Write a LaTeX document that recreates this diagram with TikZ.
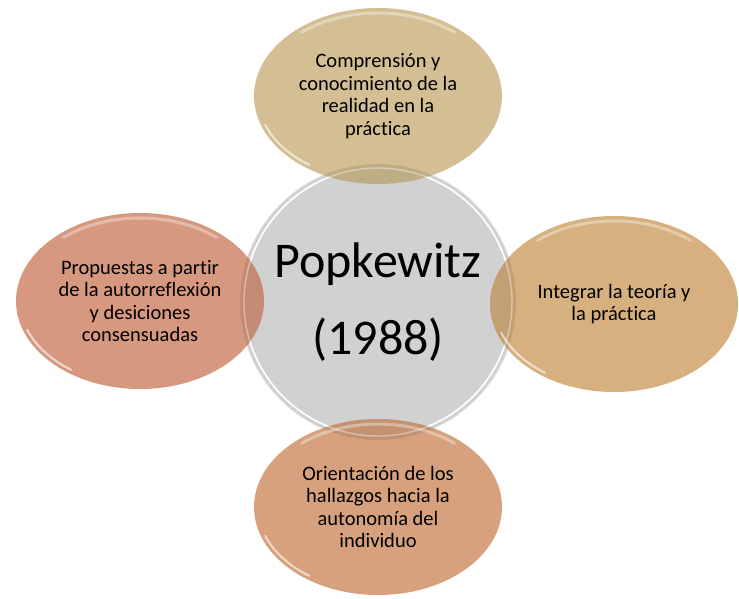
\documentclass[tikz,border=0pt]{standalone}
\usepackage{fontspec}
\setmainfont{Carlito}[Ligatures=NoCommon]
\usetikzlibrary{shapes.geometric}

\definecolor{gris}{HTML}{D1D1D1}
\definecolor{sable}{HTML}{D3BF93}
\definecolor{saumon}{HTML}{D79880}
\definecolor{caramel}{HTML}{D7B07F}
\definecolor{peche}{HTML}{D7A17E}

\begin{document}
\begin{tikzpicture}[x=1pt, y=-1pt, line join=round, line cap=round,
    bulle/.style={ellipse, minimum width=248pt, minimum height=176pt, inner sep=0pt,
                  align=center, font=\fontsize{20.5}{22.6}\selectfont}]
    \useasboundingbox (0,0) rectangle (739,599);

    % cercle central
    \node[circle, minimum size=276pt, inner sep=0pt, fill=gris, draw=gray!25, line width=0.6pt,
          align=center, font=\fontsize{50}{77}\selectfont] (centre) at (378,302) {Popkewitz\\(1988)};
    \draw[white, line width=1.6pt] (centre.center) circle (134pt);

    % bulles autour
    \foreach \nom/\px/\py/\coul/\texte in {
        haut/378/96/sable/{Comprensión y\\conocimiento de la\\realidad en la\\práctica},
        gauche/140/301/saumon/{Propuestas a partir\\de la autorreflexión\\y desiciones\\consensuadas},
        droite/614/304/caramel/{Integrar la teoría y\\la práctica},
        bas/378/507/peche/{Orientación de los\\hallazgos hacia la\\autonomía del\\individuo}} {
        \node[bulle, fill=\coul] (\nom) at (\px,\py) {\texte};
        % partie commune avec le cercle, plus sombre
        \begin{scope}
            \clip (centre.center) circle (138pt);
            \fill[black, opacity=0.09] (\nom.center) ellipse [x radius=124pt, y radius=88pt];
        \end{scope}
        % reflets
        \draw[white, opacity=0.35, line width=3pt] (\nom.center) ++(50:119pt and 83pt)
            arc[start angle=50, end angle=130, x radius=119pt, y radius=83pt];
        \draw[white, opacity=0.6, line width=2pt] (\nom.center) ++(200:120pt and 84pt)
            arc[start angle=200, end angle=235, x radius=120pt, y radius=84pt];
    }

    % bord du cercle vu au travers
    \draw[white, opacity=0.4, line width=1.4pt] (centre.center) circle (134pt);
\end{tikzpicture}
\end{document}
